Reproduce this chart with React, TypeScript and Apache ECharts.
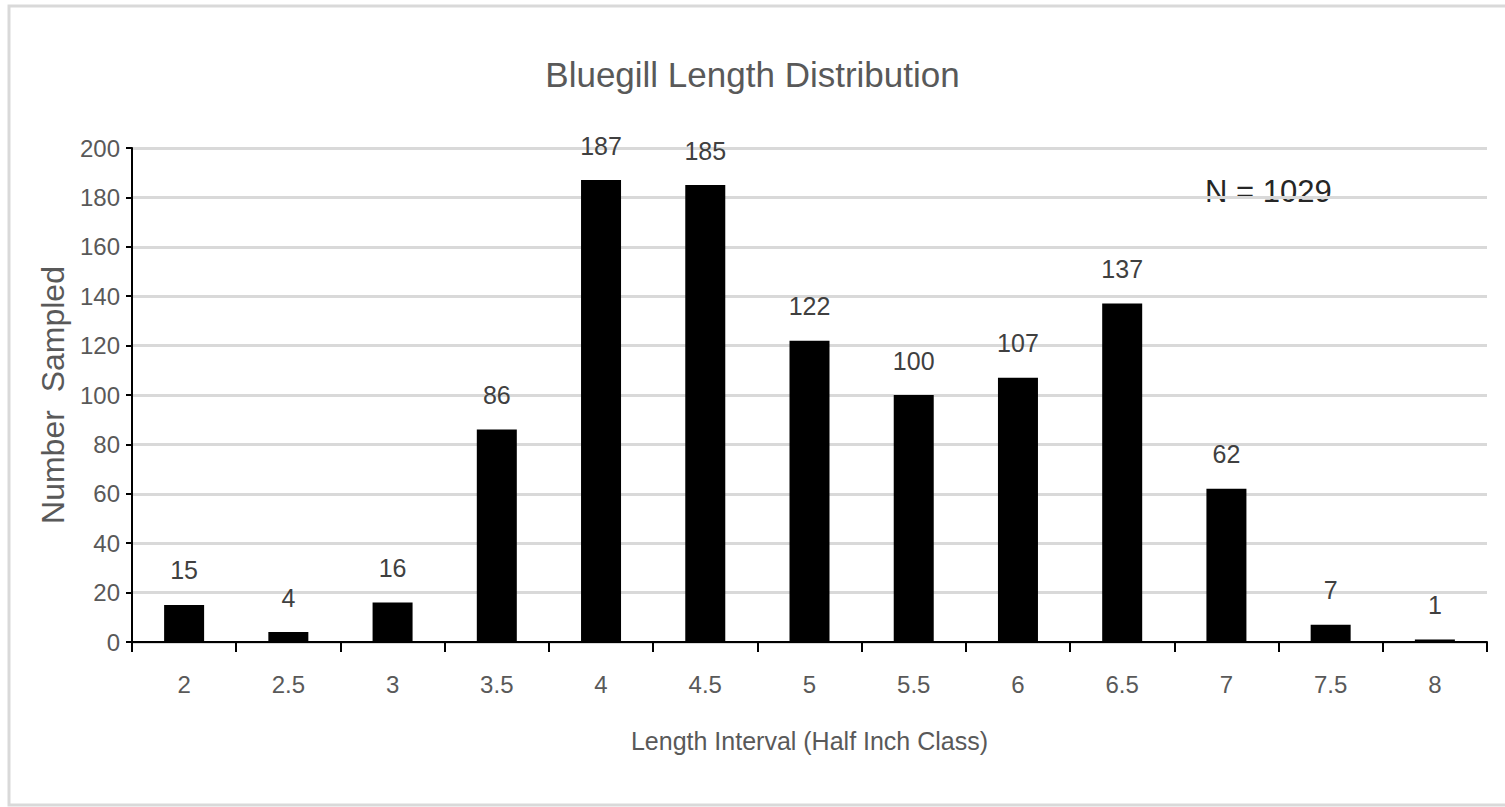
import React, { useEffect, useRef } from "react";
import * as echarts from "echarts";

const categories = ["2", "2.5", "3", "3.5", "4", "4.5", "5", "5.5", "6", "6.5", "7", "7.5", "8"];
const counts = [15, 4, 16, 86, 187, 185, 122, 100, 107, 137, 62, 7, 1];
const yTicks = { min: 0, max: 200, interval: 20 };
const titleText = "Bluegill Length Distribution";
const xName = "Length Interval (Half Inch Class)";
const yName = "Number  Sampled";
const noteText = "N = 1029";

const FONT = "'Liberation Sans Narrow', 'Arial Narrow', 'Liberation Sans', sans-serif";

export default function App() {
  const ref = useRef<HTMLDivElement>(null);
  useEffect(() => {
    if (!ref.current) return;
    const chart = echarts.init(ref.current, undefined, { renderer: "svg" });
    chart.setOption({
      animation: false,
      backgroundColor: "#ffffff",
      title: {
        text: titleText,
        left: "center",
        top: 52,
        textStyle: { fontFamily: FONT, fontSize: 35, fontWeight: "normal", color: "#595959" },
      },
      grid: { left: 132, right: 18, top: 148, bottom: 165 },
      xAxis: {
        type: "category",
        data: categories,
        boundaryGap: true,
        name: xName,
        nameLocation: "middle",
        nameGap: 86,
        nameTextStyle: { fontFamily: FONT, fontSize: 25, color: "#595959" },
        axisLine: { lineStyle: { color: "#000", width: 2 } },
        axisTick: { show: true, length: 10, lineStyle: { color: "#000", width: 2 }, alignWithLabel: false },
        axisLabel: { fontFamily: FONT, fontSize: 24, color: "#595959", margin: 30 },
        splitLine: { show: false },
      },
      yAxis: {
        type: "value",
        min: yTicks.min,
        max: yTicks.max,
        interval: yTicks.interval,
        name: yName,
        nameLocation: "middle",
        nameGap: 58,
        nameRotate: 90,
        nameTextStyle: { fontFamily: "'Liberation Sans', Arial, sans-serif", fontSize: 32, color: "#595959" },
        axisLine: { show: true, lineStyle: { color: "#000", width: 2 } },
        axisTick: { show: true, length: 6, lineStyle: { color: "#000", width: 2 } },
        axisLabel: { fontFamily: FONT, fontSize: 24, color: "#595959", margin: 12 },
        splitLine: { show: true, lineStyle: { color: "#d9d9d9", width: 3 } },
      },
      series: [
        {
          type: "bar",
          data: counts,
          barWidth: 40,
          itemStyle: { color: "#000000" },
          label: {
            show: true,
            position: "top",
            distance: 22,
            fontFamily: FONT,
            fontSize: 25,
            color: "#404040",
          },
        },
      ],
      graphic: [
        {
          type: "rect",
          shape: { x: 9, y: 6, width: 1540, height: 799 },
          style: { fill: "none", stroke: "#d9d9d9", lineWidth: 3 },
          silent: true,
          z: -1,
        },
        {
          type: "text",
          left: 1205,
          top: 176,
          style: { text: noteText, fontFamily: FONT, fontSize: 31, fill: "#262626" },
        },
      ],
    });
    return () => chart.dispose();
  }, []);
  return (
    <div
      ref={ref}
      style={{ position: "absolute", left: 0, top: 0, width: 1505, height: 807 }}
    />
  );
}
